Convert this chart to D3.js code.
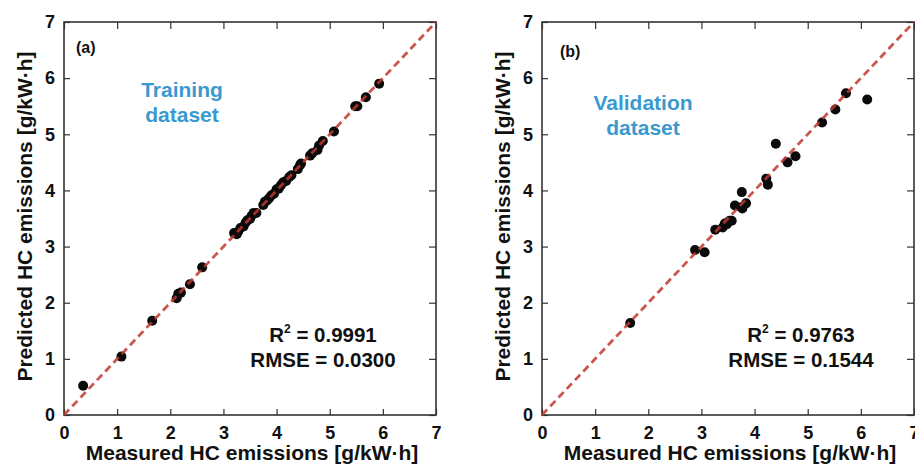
<!DOCTYPE html>
<meta charset="utf-8">
<style>

body {
  margin: 0;
  background: #fff;
  font-family: "Liberation Sans", Arial, sans-serif;
}

.axis path {
  stroke: none;
}

.axis line {
  stroke: #333;
  stroke-width: 1.2px;
}

.axis text {
  font-size: 18px;
  font-weight: bold;
  fill: #111;
}

.frame {
  fill: none;
  stroke: #333;
  stroke-width: 1.6px;
}

.title {
  font-size: 21px;
  font-weight: bold;
  fill: #111;
}

.note {
  font-size: 20.5px;
  font-weight: bold;
  fill: #111;
  text-anchor: middle;
}

.tag {
  font-size: 16px;
  font-weight: bold;
  fill: #111;
}

.dataset {
  font-size: 21px;
  font-weight: bold;
  fill: #3a9ad0;
  text-anchor: middle;
}

</style>
<body>

<script src="https://d3js.org/d3.v7.min.js"></script>

<script>
// axis ticks (both axes, both panels)
var tickValues = [0, 1, 2, 3, 4, 5, 6, 7];

// (a) training dataset: measured vs predicted HC emissions [g/kW·h]
var trainMeasured = [0.36, 1.08, 1.66, 2.12, 2.15, 2.2, 2.37, 2.6, 3.2, 3.25, 3.28, 3.32, 3.38, 3.42,
  3.45, 3.5, 3.53, 3.57, 3.62, 3.75, 3.78, 3.82, 3.86, 3.9, 3.95, 4.0, 4.04, 4.08, 4.12, 4.18,
  4.24, 4.28, 4.4, 4.44, 4.46, 4.63, 4.67, 4.77, 4.8, 4.87, 5.08, 5.48, 5.52, 5.68, 5.93];
var trainPredicted = [0.52, 1.04, 1.68, 2.08, 2.16, 2.18, 2.33, 2.63, 3.24, 3.22, 3.27, 3.33, 3.36, 3.43,
  3.47, 3.49, 3.55, 3.6, 3.6, 3.74, 3.8, 3.82, 3.86, 3.91, 3.94, 4.02, 4.03, 4.09, 4.14, 4.17,
  4.24, 4.27, 4.38, 4.45, 4.48, 4.62, 4.66, 4.72, 4.8, 4.88, 5.05, 5.5, 5.5, 5.66, 5.9];

// (b) validation dataset
var validMeasured = [1.66, 2.88, 3.06, 3.26, 3.4, 3.44, 3.48, 3.53, 3.57, 3.63, 3.75, 3.76,
  3.77, 3.84, 4.22, 4.25, 4.4, 4.62, 4.77, 5.27, 5.52, 5.72, 6.12];
var validPredicted = [1.64, 2.94, 2.9, 3.3, 3.34, 3.41, 3.4, 3.46, 3.46, 3.73, 3.7, 3.97,
  3.68, 3.77, 4.21, 4.1, 4.83, 4.5, 4.61, 5.21, 5.44, 5.73, 5.62];

var panels = [
  {left: 64, tag: '(a)', tagX: 12, tagY: 31, label: ['Training', 'dataset'], labelX: 118, labelY: 75,
   r2: '0.9991', rmse: '0.0300', xs: trainMeasured, ys: trainPredicted},
  {left: 542, tag: '(b)', tagX: 18, tagY: 35, label: ['Validation', 'dataset'], labelX: 101, labelY: 88,
   r2: '0.9763', rmse: '0.1544', xs: validMeasured, ys: validPredicted}
];

var width = 372, plotTop = 22, height = 393;
var fmt = d3.format('d');

var svg = d3.select('body').append('svg')
    .attr('width', 915)
    .attr('height', 472);

panels.forEach(function(p) {
  var g = svg.append('g')
      .attr('transform', 'translate(' + p.left + ',' + plotTop + ')');

  var x = d3.scaleLinear().domain([0, 7]).range([0, width]);
  var y = d3.scaleLinear().domain([0, 7]).range([height, 0]);

  var pts = p.xs.map(function(v, i) { return {x: v, y: p.ys[i]}; });

  g.append('g')
      .attr('class', 'x axis')
      .attr('transform', 'translate(0,' + height + ')')
      .call(d3.axisBottom(x).tickValues(tickValues).tickFormat(fmt)
        .tickSizeInner(-6).tickSizeOuter(0).tickPadding(11));

  g.append('g')
      .attr('class', 'y axis')
      .call(d3.axisLeft(y).tickValues(tickValues).tickFormat(fmt)
        .tickSizeInner(-6).tickSizeOuter(0).tickPadding(9));

  g.append('g')
      .attr('class', 'axis')
      .call(d3.axisTop(x).tickValues(tickValues).tickSizeInner(-7).tickSizeOuter(0).tickFormat(''));

  g.append('g')
      .attr('class', 'axis')
      .attr('transform', 'translate(' + width + ',0)')
      .call(d3.axisRight(y).tickValues(tickValues).tickSizeInner(-7).tickSizeOuter(0).tickFormat(''));

  g.append('rect')
      .attr('class', 'frame')
      .attr('width', width)
      .attr('height', height);

  g.selectAll('.dot')
      .data(pts)
    .enter().append('circle')
      .attr('class', 'dot')
      .attr('cx', function(d) { return x(d.x); })
      .attr('cy', function(d) { return y(d.y); })
      .attr('r', 5)
      .style('fill', '#0a0a0a');

  // 1:1 line
  g.append('line')
      .attr('x1', x(0)).attr('y1', y(0))
      .attr('x2', x(7)).attr('y2', y(7))
      .style('stroke', '#bf3a30')
      .style('stroke-width', 2.8)
      .style('stroke-opacity', 0.85)
      .style('stroke-dasharray', '7.5,4.5');

  g.append('text')
      .attr('class', 'tag')
      .attr('x', p.tagX)
      .attr('y', p.tagY)
      .text(p.tag);

  g.append('text')
      .attr('class', 'dataset')
      .attr('x', p.labelX)
      .attr('y', p.labelY)
      .text(p.label[0]);
  g.append('text')
      .attr('class', 'dataset')
      .attr('x', p.labelX)
      .attr('y', p.labelY + 25)
      .text(p.label[1]);

  var r2 = g.append('text')
      .attr('class', 'note')
      .attr('x', 259)
      .attr('y', 320);
  r2.append('tspan').text('R');
  r2.append('tspan').attr('dy', -9).style('font-size', '12px').text('2');
  r2.append('tspan').attr('dy', 9).text(' = ' + p.r2);

  g.append('text')
      .attr('class', 'note')
      .attr('x', 259)
      .attr('y', 345)
      .text('RMSE = ' + p.rmse);

  g.append('text')
      .attr('class', 'title')
      .attr('x', width / 2 + 2)
      .attr('y', height + 45)
      .style('text-anchor', 'middle')
      .text('Measured HC emissions [g/kW\u00b7h]');

  g.append('text')
      .attr('class', 'title')
      .attr('transform', 'translate(-32,' + (height / 2 - 2) + ') rotate(-90)')
      .style('text-anchor', 'middle')
      .text('Predicted HC emissions [g/kW\u00b7h]');
});

</script>
</body>
